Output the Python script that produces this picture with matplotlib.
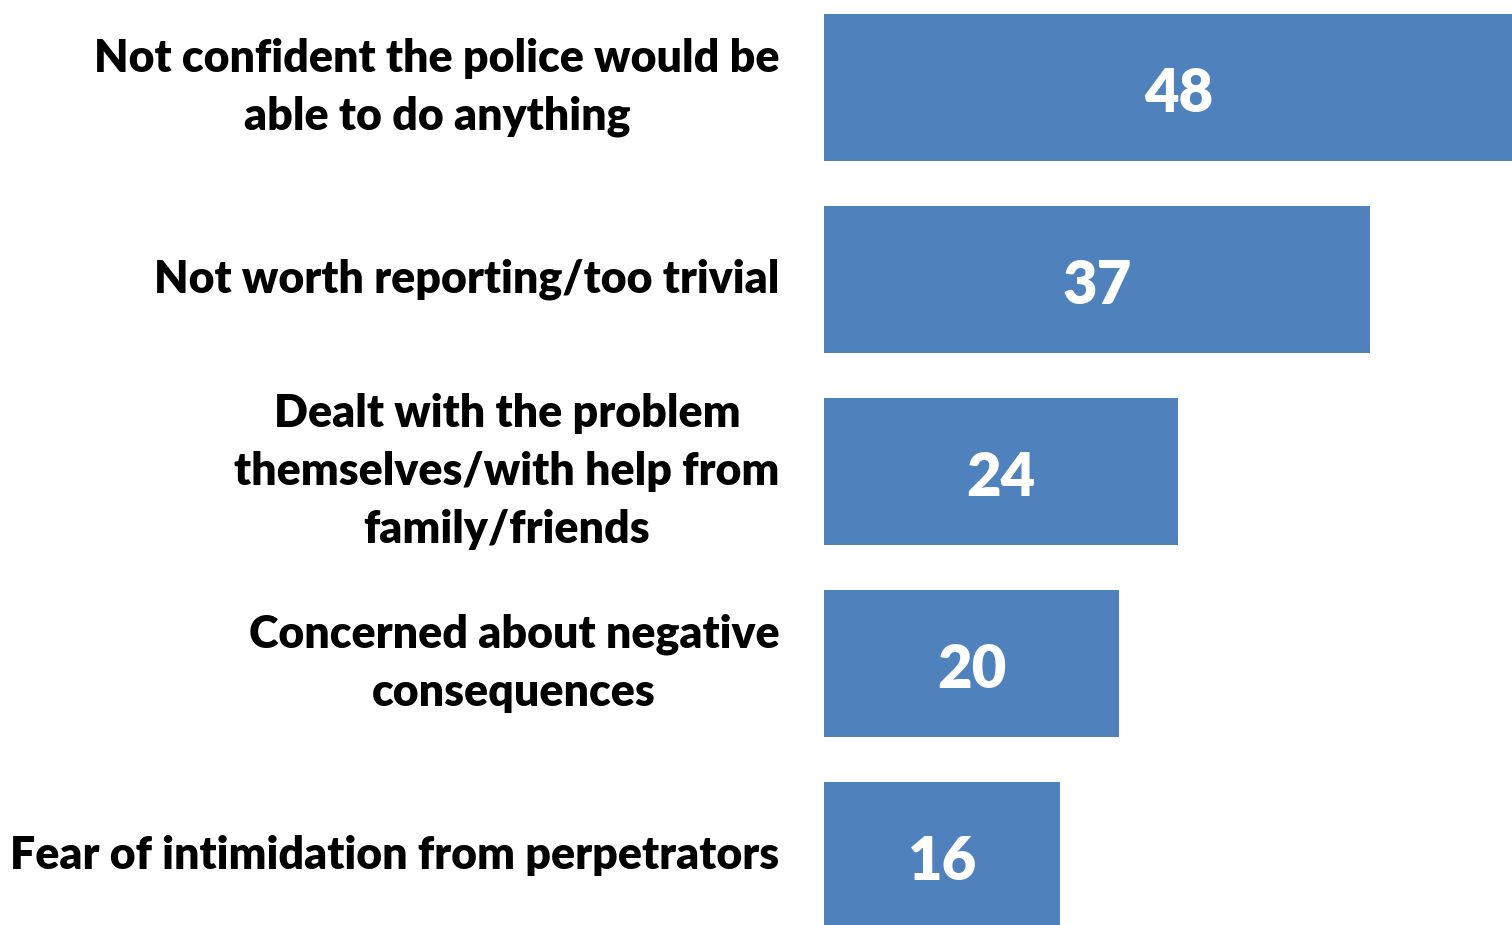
import matplotlib
matplotlib.use('Agg')
import matplotlib.pyplot as plt
from matplotlib.transforms import ScaledTranslation

categories = [
    'Not confident the police would be\nable to do anything',
    'Not worth reporting/too trivial',
    'Dealt with the problem\nthemselves/with help from\nfamily/friends',
    'Concerned about negative\nconsequences',
    'Fear of intimidation from perpetrators',
]
values = [48, 37, 24, 20, 16]

BLUE = '#4F81BD'
plt.rcParams['font.family'] = ['Lato', 'DejaVu Sans']

W, H = 1512, 925
fig = plt.figure(figsize=(W / 100, H / 100), dpi=100)
ax = fig.add_axes([824 / W, 0, 688 / W, 1])

pos = list(range(len(values)))
ax.barh(pos, values, height=0.765, color=BLUE, linewidth=0)
ax.set_xlim(0, 46.6)
ax.set_ylim(4.362, -0.456)

for y, v in zip(pos, values):
    ax.text(v / 2, y + 0.035, str(v), ha='center', va='center', color='white',
            fontsize=43, fontweight='heavy')

ax.set_yticks(pos)
ax.set_yticklabels(categories, fontsize=32.1, fontweight='heavy',
                   multialignment='center', linespacing=1.5)
# nudge labels a touch lower
shift = ScaledTranslation(0, -0.025, fig.dpi_scale_trans)
for lbl in ax.get_yticklabels():
    lbl.set_verticalalignment('center')
    lbl.set_transform(lbl.get_transform() + shift)
ax.tick_params(axis='y', length=0, pad=32)
ax.set_xticks([])
for s in ax.spines.values():
    s.set_visible(False)

fig.savefig('out.png', dpi=100)
